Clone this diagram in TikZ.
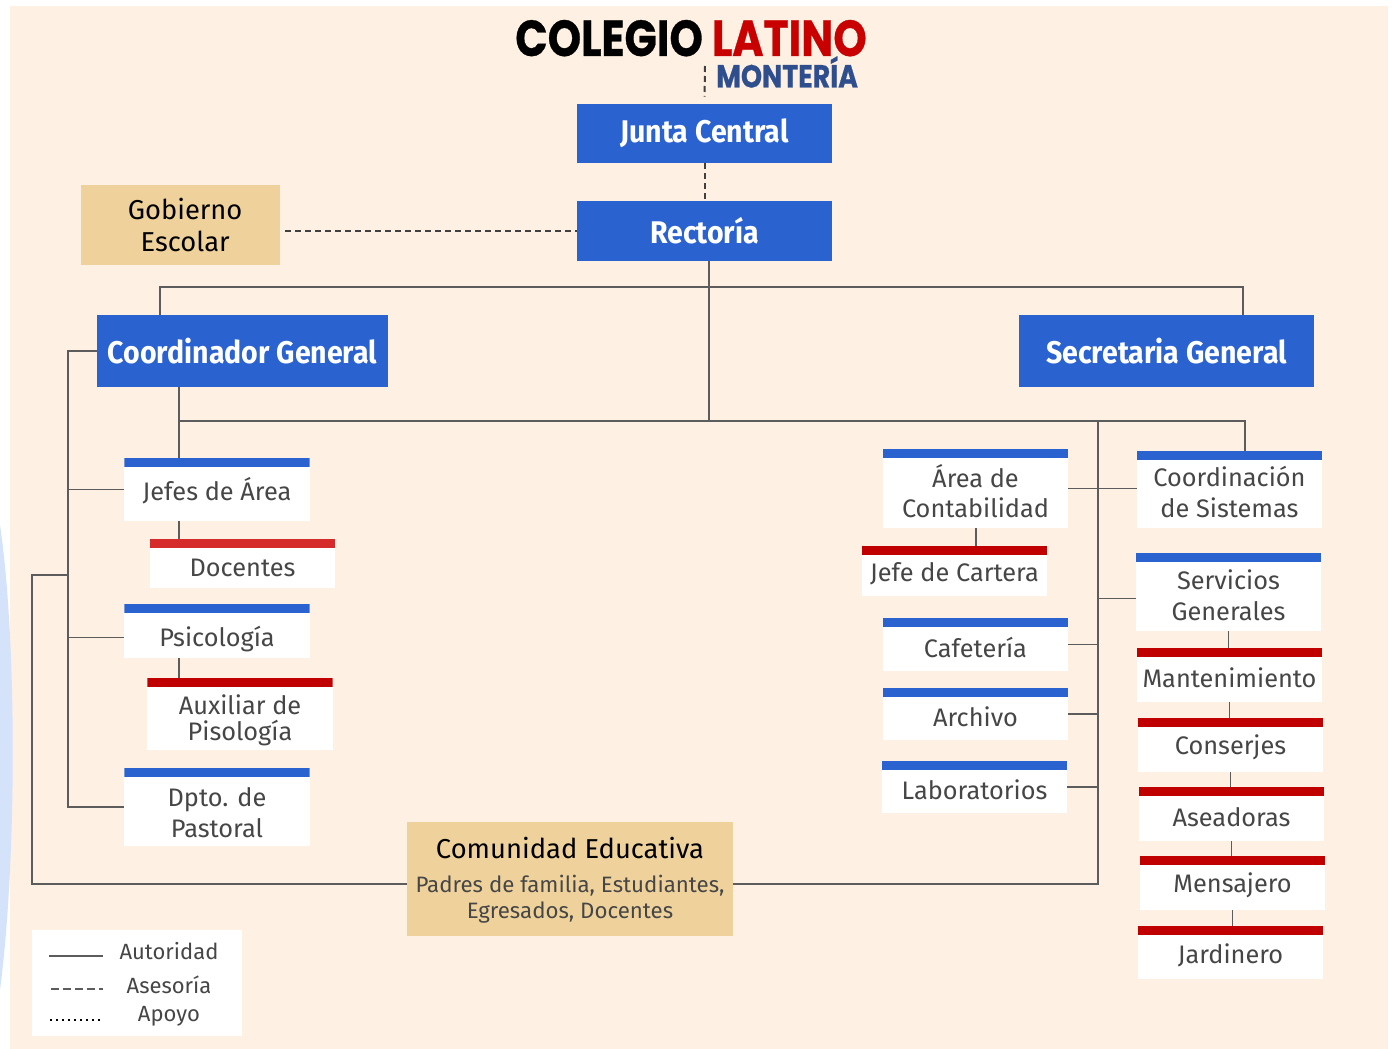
\documentclass[tikz,border=0pt]{standalone}
\usepackage{fontspec}
\setmainfont{Fira Sans}
\newfontfamily\hdrfont{Fira Sans}[FakeStretch=0.91]
\newfontfamily\titlefont{Poppins}[FakeStretch=0.84,FakeBold=0.6]
\usetikzlibrary{calc}

\definecolor{peach}{HTML}{FEF0E3}
\definecolor{edgeblue}{HTML}{D5E3FA}
\definecolor{boxblue}{HTML}{2A62D0}
\definecolor{tan}{HTML}{EFD29B}
\definecolor{barred}{HTML}{C00000}
\definecolor{docred}{HTML}{D62B2B}
\definecolor{textgray}{HTML}{464646}
\definecolor{linkgray}{HTML}{5C5C5C}
\definecolor{dashgray}{HTML}{404040}
\definecolor{latred}{HTML}{C80000}
\definecolor{montblue}{HTML}{2E4E8E}

\newcommand{\up}[1]{\rule{0pt}{#1}}

\tikzset{
  link/.style={draw=linkgray, line width=1pt},
  adv/.style={draw=dashgray, line width=1.5pt, dash pattern=on 4.5pt off 3pt},
  head/.style={fill=boxblue, text=white, inner sep=0pt,
    font=\hdrfont\bfseries\fontsize{23.5}{28}\selectfont},
  tab/.style 2 args={fill=white, text=textgray, align=center, inner sep=0pt,
    minimum width=139pt, minimum height=#2, font=\fontsize{19}{23}\selectfont,
    execute at begin node={\rule{0pt}{19pt}},
    path picture={\fill[#1] (path picture bounding box.north west)
      rectangle ([yshift=-6.75pt]path picture bounding box.north east);}},
  legtxt/.style={text=textgray, font=\fontsize{16.5}{19}\selectfont, inner sep=0pt},
}

\begin{document}
\begin{tikzpicture}[x=0.75pt,y=-0.75pt]
\useasboundingbox (0,0) rectangle (1393,1049);

% background
\fill[white] (0,0) rectangle (1393,1049);
\fill[peach] (10,6) rectangle (1388,1049);
\fill[edgeblue] (0,525) .. controls (17,640) and (17,860) .. (0,990) -- cycle;

% title
\node[inner sep=0pt, anchor=base west, font=\titlefont\bfseries\fontsize{38}{40}\selectfont] (title) at (515,56)
  {COLEGIO \textcolor{latred}{LATINO}};
\node[inner sep=0pt, anchor=base west, text=montblue, font=\titlefont\bfseries\fontsize{24}{26}\selectfont] (place) at (716,87.5) {MONTERÍA};
\coordinate (logo) at (705,66);

% top of the chart
\node[head, minimum width=191.25pt, minimum height=44.25pt] (junta) at (704.5,133.5) {Junta Central};
\node[head, minimum width=191.25pt, minimum height=45pt] (rect) at (704.5,231) {Rectoría};
\node[fill=tan, minimum width=149.25pt, minimum height=60pt, align=center, inner sep=0pt,
  font=\fontsize{20.5}{24}\selectfont] (gob) at (180.5,225) {\hspace*{7pt}Gobierno\\\hspace*{7pt}Escolar};
\node[head, minimum width=218.25pt, minimum height=54pt] (coord) at (242.5,351) {Coordinador General};
\node[head, minimum width=221.25pt, minimum height=54pt] (secr) at (1166.5,351) {Secretaria General};

% left column
\node[tab={boxblue}{47.25pt}] (jefes) at (217,489.5) {Jefes de Área};
\node[tab={docred}{36.75pt}] (doc) at (242.5,563.5) {Docentes};
\node[tab={boxblue}{40.5pt}] (psico) at (217,631) {\up{28pt}Psicología};
\node[tab={barred}{54pt}, font=\fontsize{19}{19.5}\selectfont] (aux) at (240,714) {\up{24.5pt}Auxiliar de\\Pisología};
\node[tab={boxblue}{58.5pt}] (past) at (217,807) {\up{23pt}Dpto. de\\Pastoral};

% middle right column
\node[tab={boxblue}{59.25pt}] (conta) at (975.5,488.5) {\up{21pt}Área de\\Contabilidad};
\node[tab={barred}{37.5pt}] (cart) at (954.5,571) {Jefe de Cartera};
\node[tab={boxblue}{39.75pt}] (cafe) at (975.5,644.5) {Cafetería};
\node[tab={boxblue}{39pt}] (arch) at (975.5,714) {Archivo};
\node[tab={boxblue}{39pt}] (labs) at (974.5,787) {Laboratorios};

% far right column
\node[tab={boxblue}{57.75pt}] (sist) at (1229.5,489.5) {\up{18.5pt}Coordinación\\de Sistemas};
\node[tab={boxblue}{58.5pt}] (serv) at (1228.5,592) {\up{19.5pt}Servicios\\Generales};
\node[tab={barred}{40.5pt}] (mant) at (1229.5,675) {Mantenimiento};
\node[tab={barred}{40.5pt}] (cons) at (1230.5,745) {Conserjes};
\node[tab={barred}{40.5pt}] (asea) at (1231.5,814) {Aseadoras};
\node[tab={barred}{40.5pt}] (mens) at (1232.5,883) {Mensajero};
\node[tab={barred}{39.75pt}] (jard) at (1230.5,952.5) {Jardinero};

% community box
\node[fill=tan, minimum width=244.5pt, minimum height=85.5pt] (com) at (570,879) {};
\node[inner sep=0pt, font=\fontsize{20.5}{24}\selectfont] (comT) at (570,848) {Comunidad Educativa};
\node[inner sep=0pt, align=center, text=textgray, font=\fontsize{16.7}{19.5}\selectfont] (comS) at (570,899)
  {Padres de familia, Estudiantes,\\Egresados, Docentes};

% junction points
\coordinate (tl) at (160,287);
\coordinate (tr) at (1243,287);
\coordinate (bl) at (179,421);
\coordinate (br) at (1245,421);
\coordinate (bm) at (1098,421);
\coordinate (bc) at (709,421);
\coordinate (lv) at (68,0);
\coordinate (lo) at (68,575);
\coordinate (ol) at (32,884);
\coordinate (ob) at (1098,884);

% dashed lines
\draw[adv] (logo) -- ([yshift=5.25pt]junta.north);
\draw[adv] (junta.south) -- (rect.north);
\draw[adv] ([xshift=3.75pt]gob.east |- rect.west) -- (rect.west);

% solid lines
\draw[link] (rect.south -| bc) -- (bc);
\draw[link] (coord.north -| tl) -- (tl) -- (tr) -- (secr.north -| tr);
\draw[link] (coord.south -| bl) -- (jefes.north -| bl);
\draw[link] (bl) -- (br) -- (sist.north -| br);
\draw[link] (bm) -- (ob) -- (com.east |- ob);
\draw[link] (coord.west) -| (past.west -| lv) -- (past.west);
\draw[link] (jefes.west -| lv) -- (jefes.west);
\draw[link] ([yshift=-5pt]psico.west -| lv) -- ([yshift=-5pt]psico.west);
\draw[link] (lo) -| (ol) -- (com.west |- ol);
\draw[link] (jefes.south -| bl) -- (doc.north -| bl);
\draw[link] (psico.south -| bl) -- (aux.north -| bl);
\draw[link] (conta.east) -- (conta.east -| sist.west);
\draw[link] ([yshift=-5pt]serv.west -| bm) -- ([yshift=-5pt]serv.west);
\foreach \n in {cafe,arch,labs}
  \draw[link] (\n.east) -- (\n.east -| bm);
\draw[link] (conta.south -| 976,0) -- (cart.north -| 976,0);
\foreach \a/\b in {serv/mant,mant/cons,cons/asea,asea/mens,mens/jard}
  \draw[link] (\a.south) -- (\a.south |- \b.north);

% legend
\node[fill=white, minimum width=157.5pt, minimum height=79.5pt] (legend) at (137,983) {};
\node[legtxt] (autor) at (169,951) {Autoridad};
\node[legtxt] (ases) at (169,985) {Asesoría};
\node[legtxt] (apoyo) at (169,1016) {Apoyo};
\draw[draw=linkgray, line width=1.6pt] (49,956) -- (103,956);
\draw[draw=linkgray, line width=1.6pt, dash pattern=on 6pt off 3pt] (51,989) -- (103,989);
\draw[line width=1.8pt, dash pattern=on 1.3pt off 3.2pt] (50,1020) -- (103,1020);
\end{tikzpicture}
\end{document}
